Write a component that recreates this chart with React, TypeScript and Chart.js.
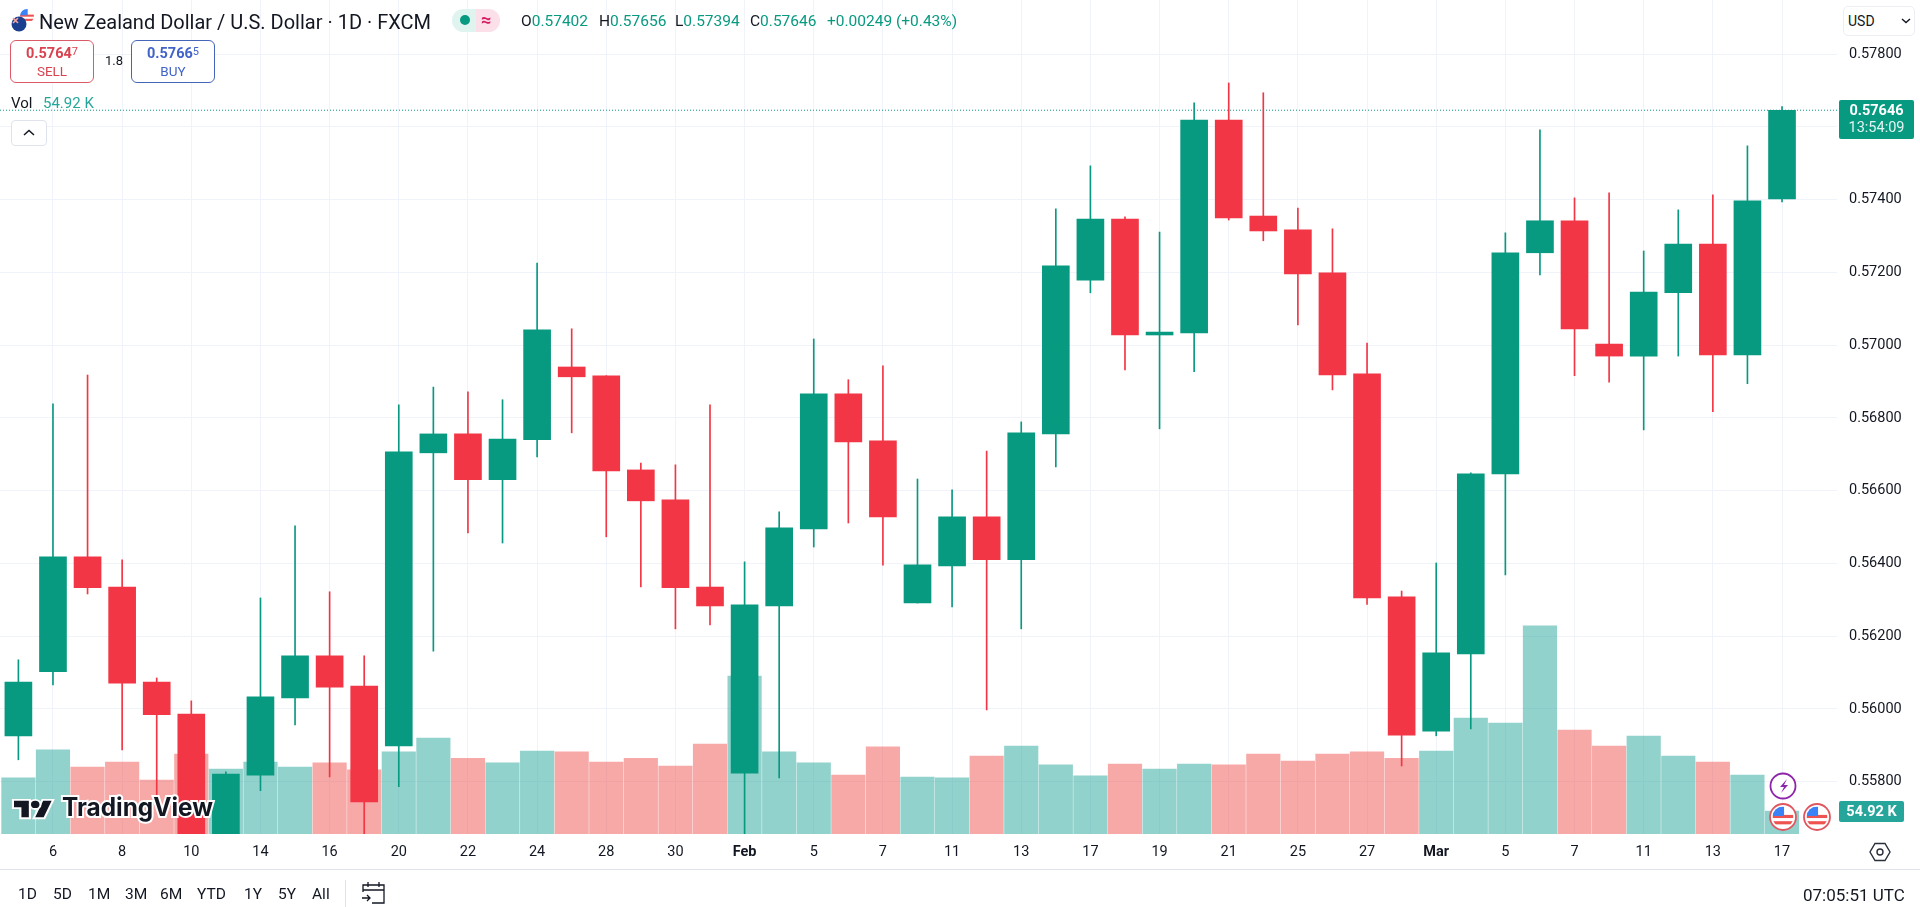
import { useEffect, useRef } from "react"
import type { CSSProperties } from "react"
import { Chart, registerables } from "chart.js"

Chart.register(...registerables)

// daily NZD/USD candles
const opens = [0.55926, 0.56102, 0.56418, 0.56335, 0.56074, 0.55986, 0.556, 0.55818, 0.5603, 0.56146, 0.56063, 0.55898, 0.56704, 0.56756, 0.5663, 0.5674, 0.5694, 0.56916, 0.56657, 0.56575, 0.56335, 0.55823, 0.56283, 0.56495, 0.56866, 0.56737, 0.56291, 0.56393, 0.56528, 0.5641, 0.56756, 0.57179, 0.57347, 0.57028, 0.57034, 0.57619, 0.57355, 0.57317, 0.57199, 0.56921, 0.56308, 0.55939, 0.56151, 0.56646, 0.57254, 0.57342, 0.57003, 0.5697, 0.57144, 0.57278, 0.56973, 0.57402]
const highs = [0.56135, 0.56839, 0.56918, 0.5641, 0.56085, 0.56022, 0.55827, 0.56305, 0.56503, 0.56322, 0.56146, 0.56836, 0.56885, 0.56872, 0.5685, 0.57226, 0.57045, 0.56916, 0.56676, 0.56671, 0.56836, 0.56404, 0.56542, 0.57017, 0.56905, 0.56943, 0.56632, 0.56602, 0.56709, 0.56789, 0.57375, 0.57493, 0.57353, 0.57311, 0.57666, 0.57721, 0.57694, 0.57377, 0.5732, 0.57006, 0.56324, 0.56401, 0.56649, 0.57309, 0.57592, 0.57405, 0.57419, 0.57259, 0.57372, 0.57413, 0.57548, 0.57656]
const lows = [0.5586, 0.56066, 0.56316, 0.55887, 0.55758, 0.555, 0.555, 0.55775, 0.55956, 0.55813, 0.556, 0.55786, 0.56159, 0.56484, 0.56456, 0.56693, 0.56759, 0.56473, 0.56335, 0.5622, 0.56231, 0.556, 0.5581, 0.56445, 0.56511, 0.56395, 0.56291, 0.5628, 0.55997, 0.5622, 0.56665, 0.57144, 0.56932, 0.5677, 0.56927, 0.57344, 0.57287, 0.57056, 0.56877, 0.56287, 0.55843, 0.55926, 0.55945, 0.56368, 0.57193, 0.56916, 0.56898, 0.56767, 0.5697, 0.56817, 0.56894, 0.57394]
const closes = [0.56074, 0.56418, 0.56333, 0.56071, 0.55984, 0.556, 0.55821, 0.56033, 0.56146, 0.5606, 0.55744, 0.56707, 0.56756, 0.5663, 0.56742, 0.57042, 0.56913, 0.56654, 0.56572, 0.56333, 0.56283, 0.56286, 0.56498, 0.56866, 0.56734, 0.56528, 0.56396, 0.56528, 0.5641, 0.56759, 0.57218, 0.57347, 0.57028, 0.57036, 0.57619, 0.5735, 0.57314, 0.57196, 0.56918, 0.56305, 0.55928, 0.56154, 0.56646, 0.57254, 0.57342, 0.57045, 0.5697, 0.57146, 0.57278, 0.56973, 0.57397, 0.57646]
// volume in thousands
const volumes = [134, 201, 160, 172, 129, 191, 155, 172, 160, 170, 153, 196, 229, 181, 170, 198, 196, 172, 181, 162, 215, 377, 196, 170, 141, 208, 136, 134, 186, 210, 165, 139, 167, 155, 167, 165, 191, 174, 191, 196, 181, 198, 277, 265, 497, 248, 210, 234, 186, 172, 141, 54.92]

const tickLabels = ["6", "8", "10", "14", "16", "20", "22", "24", "28", "30", "Feb", "5", "7", "11", "13", "17", "19", "21", "25", "27", "Mar", "5", "7", "11", "13", "17"]
const lastPrice = 0.57646
const ranges = ["1D", "5D", "1M", "3M", "6M", "YTD", "1Y", "5Y", "All"]
const rangeLefts = [18, 53, 88, 125, 160, 197, 244, 278, 312]

const GREEN = "#089981"
const RED = "#f23645"
const VOL_GREEN = "rgba(38,166,154,0.5)"
const VOL_RED = "rgba(239,83,80,0.5)"
const GRID = "#f0f3fa"
const TEXT = "#131722"
const FONT = "Roboto, sans-serif"

const X_MIN = -0.532
const X_MAX = 52.59

const isUp = (i: number) => closes[i] >= opens[i]
const candleColors = opens.map((_, i) => (isUp(i) ? GREEN : RED))
const volumeColors = opens.map((_, i) => (isUp(i) ? VOL_GREEN : VOL_RED))

function at(left: number, top: number, extra: CSSProperties = {}): CSSProperties {
  return { position: "absolute", left, top, whiteSpace: "nowrap", fontFamily: FONT, color: TEXT, ...extra }
}

function UsFlag({ cx, cy, r, id }: { cx: number; cy: number; r: number; id: string }) {
  const s = r / 10
  return (
    <g transform={`translate(${cx} ${cy}) scale(${s})`}>
      <clipPath id={id}><circle r="10" /></clipPath>
      <g clipPath={`url(#${id})`}>
        <rect x="-10" y="-10" width="20" height="20" fill="#fff" />
        <rect x="-10" y="-2" width="20" height="3" fill="#ef5350" />
        <rect x="-10" y="4" width="20" height="3" fill="#ef5350" />
        <rect x="-10" y="-10" width="11" height="9" fill="#3b82f6" />
      </g>
    </g>
  )
}

export default function App() {
  const chartRef = useRef<HTMLCanvasElement>(null)

  useEffect(() => {
    if (!chartRef.current) return
    const xs = opens.map((_, i) => i)

    const chart = new Chart(chartRef.current, {
      type: "bar",
      data: {
        datasets: [
          {
            type: "line",
            data: [{ x: X_MIN, y: lastPrice }, { x: X_MAX, y: lastPrice }],
            borderColor: GREEN,
            borderWidth: 1,
            borderDash: [1, 2],
            pointRadius: 0,
            yAxisID: "y",
            order: 0,
          },
          {
            data: xs.map((i) => ({ x: i, y: [opens[i], closes[i]] })),
            backgroundColor: candleColors,
            barThickness: 27,
            grouped: false,
            yAxisID: "y",
            order: 1,
          },
          {
            data: xs.map((i) => ({ x: i, y: [lows[i], highs[i]] })),
            backgroundColor: candleColors,
            barThickness: 1,
            grouped: false,
            yAxisID: "y",
            order: 2,
          },
          {
            data: xs.map((i) => ({ x: i, y: volumes[i] })),
            backgroundColor: volumeColors,
            barThickness: 33.5,
            grouped: false,
            yAxisID: "vol",
            order: 3,
          },
        ] as any,
      },
      options: {
        responsive: false,
        animation: false,
        layout: { padding: 0 },
        plugins: { legend: { display: false }, tooltip: { enabled: false } },
        scales: {
          x: {
            type: "linear",
            min: X_MIN,
            max: X_MAX,
            offset: false,
            grid: { color: GRID, offset: false, drawTicks: false },
            border: { display: false },
            afterBuildTicks: (s: any) => {
              s.ticks = tickLabels.map((_, i) => ({ value: i * 2 + 1 }))
            },
            afterFit: (s: any) => {
              s.height = 73
              s.paddingLeft = 0
              s.paddingRight = 0
            },
            ticks: {
              autoSkip: false,
              maxRotation: 0,
              padding: 10,
              color: TEXT,
              callback: (_v: any, i: number) => tickLabels[i],
              font: (c: any) => ({
                family: FONT,
                size: 14.5,
                weight: tickLabels[c.index] === "Feb" || tickLabels[c.index] === "Mar" ? "bold" : "normal",
              }),
            },
          },
          y: {
            type: "linear",
            position: "right",
            min: 0.55656,
            max: 0.57949,
            grid: { color: GRID, drawTicks: false },
            border: { display: false },
            afterFit: (s: any) => {
              s.width = 83
              s.paddingTop = 0
              s.paddingBottom = 0
            },
            ticks: {
              stepSize: 0.002,
              includeBounds: false,
              padding: 12,
              color: TEXT,
              font: { family: FONT, size: 14.5 },
              callback: (v: any) => Number(v).toFixed(5),
            },
          },
          vol: {
            type: "linear",
            display: false,
            min: 0,
            max: 1992,
          },
        },
      } as any,
    })

    return () => chart.destroy()
  }, [])

  const ohlc: [string, string, number][] = [
    ["O", "0.57402", 521],
    ["H", "0.57656", 599],
    ["L", "0.57394", 675],
    ["C", "0.57646", 750],
  ]

  return (
    <div style={{ position: "fixed", left: 0, top: 0, width: 1920, height: 907, background: "#fff", overflow: "hidden" }}>
      <canvas ref={chartRef} width={1920} height={907} style={{ position: "absolute", left: 0, top: 0 }} />

      {/* symbol header */}
      <svg width="40" height="40" style={{ position: "absolute", left: 0, top: 0 }}>
        <UsFlag cx={27} cy={16} r={7} id="usTop" />
        <circle cx={19} cy={24} r={7.5} fill="#1a3f8f" />
        <path d="M13 18l5 5M18 18l-5 5" stroke="#f5a3a3" strokeWidth="1.6" />
      </svg>
      <div style={at(39, 10, { fontSize: 20, lineHeight: "24px" })}>New Zealand Dollar / U.S. Dollar · 1D · FXCM</div>

      <div style={{ position: "absolute", left: 452, top: 9, width: 24, height: 23, background: "#dff3ef", borderRadius: "12px 0 0 12px" }} />
      <div style={{ position: "absolute", left: 476, top: 9, width: 24, height: 23, background: "#fbdfe9", borderRadius: "0 12px 12px 0" }} />
      <div style={{ position: "absolute", left: 460, top: 15, width: 10, height: 10, background: GREEN, borderRadius: 5 }} />
      <div style={at(481, 7, { fontSize: 18, lineHeight: "26px", color: "#d81b60", fontWeight: 700 })}>≈</div>

      {ohlc.map(([k, v, left]) => (
        <div key={k} style={at(left, 12, { fontSize: 15.5, lineHeight: "18px" })}>
          {k}
          <span style={{ color: GREEN }}>{v}</span>
        </div>
      ))}
      <div style={at(827, 12, { fontSize: 15.5, lineHeight: "18px", color: GREEN })}>+0.00249 (+0.43%)</div>

      {/* sell / buy */}
      <div style={{ position: "absolute", left: 10, top: 40, width: 84, height: 43, boxSizing: "border-box", border: "1px solid #dc5a68", borderRadius: 6, background: "#fff" }} />
      <div style={at(10, 44, { width: 84, textAlign: "center", fontSize: 14.5, lineHeight: "20px", fontWeight: 700, color: "#d8434f" })}>
        0.5764<span style={{ fontSize: 11, fontWeight: 400, position: "relative", top: -3 }}>7</span>
      </div>
      <div style={at(10, 62, { width: 84, textAlign: "center", fontSize: 13.5, lineHeight: "18px", color: "#d8434f" })}>SELL</div>
      <div style={at(105, 52, { fontSize: 13, lineHeight: "18px" })}>1.8</div>
      <div style={{ position: "absolute", left: 131, top: 40, width: 84, height: 43, boxSizing: "border-box", border: "1px solid #4465b8", borderRadius: 6, background: "#fff" }} />
      <div style={at(131, 44, { width: 84, textAlign: "center", fontSize: 14.5, lineHeight: "20px", fontWeight: 700, color: "#4163c8" })}>
        0.5766<span style={{ fontSize: 11, fontWeight: 400, position: "relative", top: -3 }}>5</span>
      </div>
      <div style={at(131, 62, { width: 84, textAlign: "center", fontSize: 13.5, lineHeight: "18px", color: "#4163c8" })}>BUY</div>

      <div style={at(11, 94, { fontSize: 15, lineHeight: "18px" })}>Vol</div>
      <div style={at(43, 94, { fontSize: 15, lineHeight: "18px", color: "#26a69a" })}>54.92 K</div>

      <div style={{ position: "absolute", left: 11, top: 120, width: 36, height: 26, boxSizing: "border-box", border: "1px solid #e0e3eb", borderRadius: 4, background: "#fff" }} />
      <svg width="36" height="26" style={{ position: "absolute", left: 11, top: 120 }}>
        <path d="M13 15l5-4.5 5 4.5" fill="none" stroke={TEXT} strokeWidth="1.5" />
      </svg>

      {/* currency box and price tags */}
      <div style={{ position: "absolute", left: 1843, top: 6, width: 72, height: 30, boxSizing: "border-box", border: "1px solid #eceef3", borderRadius: 5, background: "#fff" }} />
      <div style={at(1848, 12, { fontSize: 14, lineHeight: "18px" })}>USD</div>
      <svg width="12" height="10" style={{ position: "absolute", left: 1900, top: 16 }}>
        <path d="M2 3l4 3.5L10 3" fill="none" stroke={TEXT} strokeWidth="1.4" />
      </svg>

      <div style={{ position: "absolute", left: 1839, top: 100, width: 75, height: 39, background: GREEN, borderRadius: 2 }} />
      <div style={at(1839, 102, { width: 75, textAlign: "center", fontSize: 14.5, lineHeight: "18px", fontWeight: 700, color: "#fff" })}>0.57646</div>
      <div style={at(1839, 119, { width: 75, textAlign: "center", fontSize: 14.5, lineHeight: "18px", color: "#e3f5f1" })}>13:54:09</div>

      <div style={{ position: "absolute", left: 1839, top: 801, width: 65, height: 21, background: "#26a69a", borderRadius: 2 }} />
      <div style={at(1839, 802, { width: 65, textAlign: "center", fontSize: 14.5, lineHeight: "19px", fontWeight: 700, color: "#fff" })}>54.92 K</div>

      {/* event markers */}
      <svg width="80" height="70" style={{ position: "absolute", left: 1765, top: 770 }}>
        <circle cx="18" cy="16" r="12.5" fill="#fff" stroke="#8e24aa" strokeWidth="1.8" />
        <path d="M22 9l-7 8h4l-3 6 7-8h-4z" fill="#8e24aa" />
        <circle cx="18" cy="47" r="13" fill="#fff" stroke="#e0565f" strokeWidth="1.8" />
        <UsFlag cx={18} cy={47} r={10.5} id="usA" />
        <circle cx="52" cy="47" r="13" fill="#fff" stroke="#e0565f" strokeWidth="1.8" />
        <UsFlag cx={52} cy={47} r={10.5} id="usB" />
      </svg>

      {/* logo */}
      <svg width="230" height="44" style={{ position: "absolute", left: 6, top: 788 }}>
        <g transform="translate(8 10) scale(1.06 0.92)" stroke="#fff" strokeWidth="4" paintOrder="stroke" fill="#131722">
          <path d="M14 21H7V10H0V3h14v18zM28 21h-8l7.5-18h8L28 21z" />
          <circle cx="20" cy="7" r="4" />
        </g>
        <text x="56" y="28" textLength="151" lengthAdjust="spacingAndGlyphs" fontFamily="Inter, sans-serif" fontWeight="700" fontSize="25" fill="#131722" stroke="#fff" strokeWidth="4" paintOrder="stroke">TradingView</text>
      </svg>

      {/* settings hexagon */}
      <svg width="24" height="24" style={{ position: "absolute", left: 1868, top: 840 }}>
        <path d="M7 3.5h10l5 8.5-5 8.5H7L2 12z" fill="none" stroke="#2a2e39" strokeWidth="1.4" />
        <circle cx="12" cy="12" r="3" fill="none" stroke="#2a2e39" strokeWidth="1.4" />
      </svg>

      {/* bottom toolbar */}
      <div style={{ position: "absolute", left: 0, top: 869, width: 1920, height: 1, background: "#e0e3eb" }} />
      {ranges.map((r, i) => (
        <div key={r} style={at(rangeLefts[i], 885, { fontSize: 15.5, lineHeight: "18px" })}>{r}</div>
      ))}
      <div style={{ position: "absolute", left: 345, top: 880, width: 1, height: 27, background: "#e0e3eb" }} />
      <svg width="26" height="26" style={{ position: "absolute", left: 361, top: 880 }}>
        <path d="M2 12V5h21v18H11M2 10h21M7 2v5M18 2v5M1 18h8M6 15l3 3-3 3" fill="none" stroke={TEXT} strokeWidth="1.3" />
      </svg>
      <div style={at(1803, 885, { fontSize: 17, lineHeight: "20px" })}>07:05:51 UTC</div>
    </div>
  )
}
